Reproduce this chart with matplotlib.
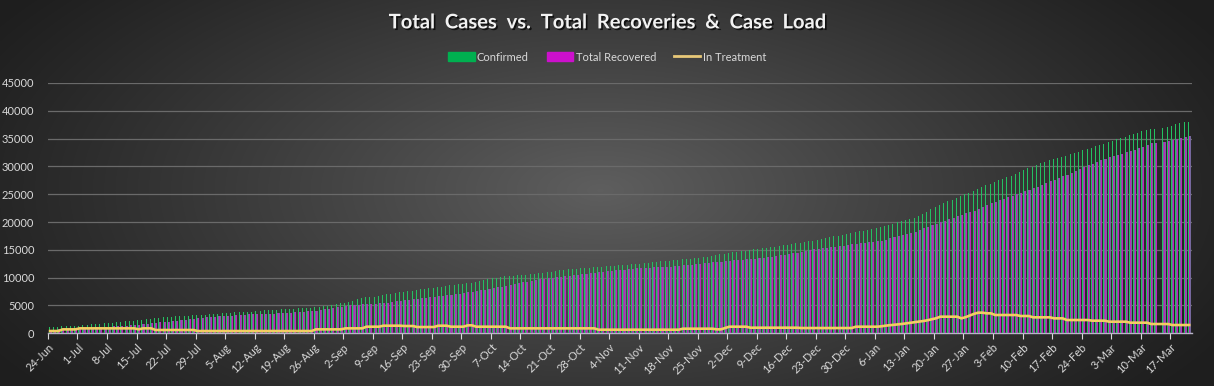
import numpy as np
import pandas as pd
import matplotlib
matplotlib.use('Agg')
import matplotlib.pyplot as plt
import matplotlib.patheffects as pe
from matplotlib.patches import Patch
from matplotlib.lines import Line2D

# daily values, 24-Jun-2020 .. 21-Mar-2021 (None = no entry)
start_date = '2020-06-24'

confirmed = [
    1100, 1130, 1180, 1230, 1270, 1320, 1360,
    1400, 1460, 1530, 1590, 1660, 1720, 1790,
    1850, 1920, 1990, 2060, 2140, 2210, 2280,
    2350, 2480, 2600, 2660, 2720, 2790, 2850,
    2900, 2970, 3040, 3110, 3140, 3180, 3220,
    3250, 3300, 3360, 3420, 3470, 3530, 3590,
    3650, 3700, 3750, 3800, 3850, 3890, 3920,
    3950, 4080, 4200, 4230, 4250, 4280, 4310,
    4350, 4400, 4450, 4500, 4560, 4610, 4640,
    4670, 4770, 4880, 4980, 5090, 5230, 5370,
    5510, 5700, 5890, 6090, 6280, 6470, 6540,
    6600, 6750, 6890, 7010, 7130, 7250, 7370,
    7490, 7590, 7690, 7790, 7890, 7990, 8090,
    8200, 8300, 8410, 8510, 8610, 8710, 8810,
    8900, 9000, 9100, 9250, 9410, 9560, 9720,
    9870, 10030, 10180, 10240, 10300, 10360, 10420,
    10480, 10550, 10610, 10670, 10770, 10880, 10980,
    11090, 11190, 11300, 11400, 11510, 11570, 11630,
    11690, 11750, 11810, 11860, 11920, 11980, 12040,
    12100, 12160, 12230, 12290, 12350, 12410, 12470,
    12540, 12620, 12690, 12770, 12840, 12910, 12990,
    13060, 13140, 13210, 13290, 13370, 13440, 13520,
    13600, 13670, 13800, 13920, 14050, 14170, 14300,
    14430, 14550, 14680, 14780, 14880, 14980, 15080,
    15170, 15270, 15370, 15470, 15590, 15710, 15830,
    15950, 16070, 16190, 16310, 16420, 16540, 16660,
    16810, 16960, 17110, 17260, 17410, 17560, 17710,
    17860, 18010, 18160, 18310, 18470, 18620, 18770,
    18920, 19070, 19290, 19500, 19720, 19940, 20150,
    20370, 20590, 20800, 21160, 21520, 21880, 22260,
    22630, 23010, 23390, 23720, 24040, 24370, 24700,
    25000, 25300, 25600, 25900, 26240, 26590, 26930,
    27270, 27530, 27790, 28040, 28300, 28650, 28990,
    29340, 29680, 29980, 30280, 30570, 30870, 31080,
    31280, 31490, 31690, 31900, 32150, 32390, 32640,
    32880, 33130, 33380, 33620, 33870, 34120, 34360,
    34610, 34860, 35110, 35360, 35600, 35850, 36060,
    36280, 36490, 36700, 36760, None, 36880, 37110,
    37330, 37560, 37780, 37920, 38070,
]

recovered = [
    600, 640, 690, 730, 770, 820, 860,
    900, 940, 980, 1020, 1060, 1110, 1150,
    1190, 1230, 1280, 1320, 1370, 1410, 1460,
    1500, 1600, 1700, 1800, 1880, 1950, 2030,
    2100, 2200, 2290, 2390, 2470, 2540, 2620,
    2700, 2770, 2850, 2920, 2990, 3030, 3070,
    3100, 3160, 3230, 3290, 3360, 3420, 3440,
    3450, 3480, 3500, 3530, 3550, 3580, 3600,
    3660, 3720, 3780, 3830, 3890, 3950, 4010,
    4070, 4180, 4290, 4390, 4500, 4650, 4800,
    4940, 5090, 5130, 5170, 5210, 5240, 5280,
    5320, 5360, 5400, 5520, 5640, 5750, 5870,
    5990, 6070, 6150, 6230, 6310, 6390, 6470,
    6550, 6640, 6720, 6800, 6890, 7010, 7130,
    7250, 7370, 7490, 7620, 7740, 7870, 8000,
    8120, 8250, 8380, 8530, 8680, 8830, 8980,
    9140, 9290, 9440, 9590, 9680, 9770, 9860,
    9950, 10040, 10130, 10220, 10310, 10410, 10500,
    10600, 10700, 10790, 10890, 10980, 11080, 11160,
    11230, 11310, 11380, 11460, 11540, 11610, 11690,
    11730, 11760, 11800, 11840, 11870, 11910, 11940,
    11980, 12060, 12130, 12210, 12290, 12360, 12440,
    12510, 12590, 12670, 12740, 12820, 12890, 12970,
    13040, 13120, 13190, 13250, 13320, 13380, 13440,
    13510, 13570, 13640, 13700, 13850, 14000, 14130,
    14250, 14380, 14500, 14650, 14810, 14960, 15110,
    15210, 15300, 15400, 15490, 15590, 15690, 15780,
    15880, 15980, 16070, 16170, 16270, 16370, 16460,
    16560, 16660, 16860, 17060, 17270, 17470, 17670,
    17880, 18080, 18280, 18580, 18880, 19180, 19450,
    19720, 19990, 20260, 20520, 20770, 21030, 21280,
    21540, 21800, 22050, 22310, 22650, 22990, 23340,
    23680, 23940, 24190, 24450, 24700, 24970, 25240,
    25510, 25780, 26090, 26390, 26700, 27000, 27300,
    27600, 27900, 28200, 28500, 28840, 29170, 29510,
    29840, 30180, 30510, 30850, 31180, 31410, 31630,
    31860, 32080, 32310, 32530, 32760, 32980, 33280,
    33580, 33880, 34180, 34300, None, 34470, 34640,
    34810, 34980, 35150, 35320, 35490,
]

in_treatment = [
    410, 410, 410, 710, 710, 710, 710,
    890, 890, 890, 890, 890, 890, 890,
    890, 890, 890, 890, 890, 890, 890,
    710, 890, 890, 890, 590, 590, 590,
    590, 590, 590, 590, 590, 590, 590,
    410, 410, 410, 410, 410, 410, 410,
    410, 410, 410, 410, 410, 410, 410,
    410, 410, 410, 410, 410, 410, 410,
    410, 410, 410, 410, 410, 410, 410,
    710, 710, 710, 710, 710, 710, 710,
    890, 890, 890, 890, 890, 1190, 1190,
    1190, 1190, 1370, 1370, 1370, 1370, 1370,
    1310, 1310, 1310, 1130, 1130, 1130, 1130,
    1130, 1370, 1370, 1370, 1190, 1190, 1190,
    1190, 1430, 1430, 1190, 1190, 1190, 1190,
    1190, 1190, 1190, 1190, 890, 890, 890,
    890, 890, 890, 890, 890, 890, 890,
    890, 890, 890, 890, 890, 890, 890,
    890, 890, 890, 890, 650, 650, 650,
    650, 650, 650, 650, 650, 650, 650,
    650, 650, 650, 650, 650, 650, 650,
    650, 650, 650, 830, 830, 830, 830,
    830, 830, 830, 830, 710, 710, 950,
    1190, 1190, 1190, 1190, 1190, 1010, 1010,
    1010, 1010, 1010, 1010, 1010, 1010, 1010,
    1010, 1010, 1010, 950, 950, 950, 950,
    950, 950, 950, 950, 950, 950, 950,
    950, 950, 1190, 1190, 1190, 1190, 1190,
    1190, 1250, 1370, 1450, 1530, 1610, 1690,
    1800, 1900, 2000, 2110, 2210, 2350, 2520,
    2700, 2990, 2990, 2990, 2990, 2990, 2690,
    2900, 3200, 3500, 3710, 3710, 3590, 3590,
    3290, 3290, 3290, 3290, 3290, 3290, 3110,
    3110, 3110, 2870, 2870, 2870, 2870, 2870,
    2690, 2690, 2690, 2390, 2390, 2390, 2390,
    2390, 2390, 2270, 2270, 2270, 2270, 2090,
    2090, 2090, 2090, 2090, 1910, 1910, 1910,
    1910, 1910, 1670, 1670, None, 1670, 1670,
    1490, 1490, 1490, 1490, 1490,
]


def to_arr(vals):
    return np.array([np.nan if v is None else v for v in vals], dtype=float)


conf = to_arr(confirmed)
rec = to_arr(recovered)
treat = to_arr(in_treatment)
dates = pd.date_range(start_date, periods=len(conf), freq='D')
days = np.arange(len(conf))

fig = plt.figure(figsize=(12.14, 3.86), dpi=100)

# radial dark-grey backdrop
bg = fig.add_axes([0, 0, 1, 1], zorder=0)
yy, xx = np.mgrid[0:386, 0:1214]
r = np.sqrt(((xx - 600) / 700.0) ** 2 + ((yy - 190) / 330.0) ** 2)
shade = np.clip(1 - r, 0, 1) ** 1.1
lo, hi = np.array([0.12, 0.12, 0.12]), np.array([0.37, 0.37, 0.37])
img = lo + (hi - lo) * shade[..., None]
bg.imshow(img, aspect='auto', extent=[0, 1, 0, 1])
bg.axis('off')

ax = fig.add_axes([0.0395, 0.1365, 0.9425, 0.6485], zorder=1)
ax.set_facecolor('none')

green = '#24c060'
magenta = '#c020c0'
lavender = '#76689e'
yellow = '#f3cd62'
px = 72.0 / fig.dpi   # one pixel in points

ok_bar = ~np.isnan(conf)
ax.bar(days + 0.15, rec, width=0.5, color=lavender, linewidth=0,
       antialiased=False, zorder=2)
ax.vlines(days[ok_bar] - 0.33, 0, conf[ok_bar], color=green, lw=px,
          antialiased=False, zorder=3)
ax.vlines(days[ok_bar] + 0.05, 0, rec[ok_bar], color=magenta, lw=px,
          antialiased=False, zorder=3)

ok = ~np.isnan(treat)
ax.plot(days[ok], treat[ok], color=yellow, lw=1.9, zorder=4)

ax.set_ylim(0, 45000)
ax.set_yticks(np.arange(0, 45001, 5000))
ax.set_xlim(-0.5, 270.7)
tick_pos = np.arange(0, len(days), 7)
ax.set_xticks(tick_pos - 0.5)
ax.set_xticklabels([f'{d.day}-{d.strftime("%b")}' for d in dates[tick_pos]],
                   rotation=45, ha='right', rotation_mode='anchor')

ax.grid(axis='y', color='#6a6a6a', lw=0.9, zorder=0)
ax.set_axisbelow(True)
for s in ['top', 'right', 'left']:
    ax.spines[s].set_visible(False)
ax.spines['bottom'].set_color('#b9b4c8')
ax.spines['bottom'].set_linewidth(1.0)
ax.tick_params(axis='x', colors='#d9d9d9', labelsize=8, length=4,
               width=0.8, pad=2)
ax.tick_params(axis='y', colors='#d9d9d9', labelsize=8, length=0, pad=10)
for lab in ax.get_yticklabels() + ax.get_xticklabels():
    lab.set_family('Lato')

fig.text(0.5, 0.942, 'Total  Cases  vs.  Total  Recoveries  &  Case  Load',
         ha='center', va='center', color='#f2f2f2', fontsize=14.5,
         fontweight='bold', family='Lato',
         path_effects=[pe.SimplePatchShadow(offset=(1.2, -1.2), alpha=0.7,
                                            shadow_rgbFace='black'),
                       pe.Normal()])

handles = [Patch(color='#00b050'), Patch(color='#cc10cc'),
           Line2D([], [], color='#e8c878', lw=2)]
leg = fig.legend(handles, ['Confirmed', 'Total Recovered', 'In Treatment'],
                 loc='center', bbox_to_anchor=(0.5, 0.852), ncol=3,
                 frameon=False, fontsize=8, handlelength=2.4,
                 handleheight=0.9, columnspacing=1.6, handletextpad=0.2)
for t in leg.get_texts():
    t.set_color('#d9d9d9')
    t.set_family('Lato')

fig.savefig('out.png', dpi=100)
